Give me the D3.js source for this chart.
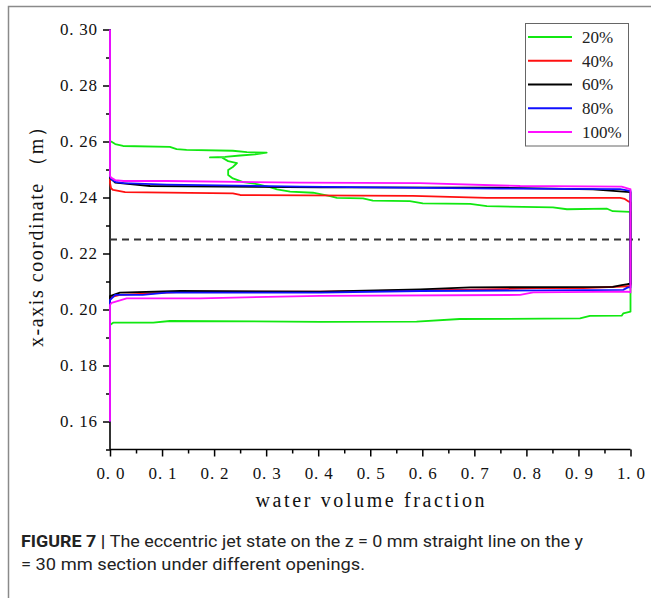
<!DOCTYPE html>
<html>
<head>
<meta charset="utf-8">
<script src="https://cdn.jsdelivr.net/npm/d3@7"></script>
<style>
  html, body { margin: 0; padding: 0; background: #fff; }
  svg { display: block; }
</style>
</head>
<body>
<svg id="chart" width="651" height="598"></svg>
<script>
// ---- data: water volume fraction (x) against x-axis coordinate in metres (y) ----
const openings = ["20%", "40%", "60%", "80%", "100%"];
const seriesColors = ["#11e811", "#ff1010", "#000000", "#1010ff", "#ff10ff"];

const series20 = [
  [0, 0.300], [0, 0.2602], [0.003, 0.2599], [0.010, 0.2591], [0.025, 0.2584], [0.115, 0.2581],
  [0.128, 0.2573], [0.147, 0.2570], [0.236, 0.2567], [0.263, 0.2562], [0.301, 0.2560],
  [0.279, 0.2554], [0.250, 0.2550], [0.221, 0.2545], [0.192, 0.2543], [0.215, 0.2543],
  [0.227, 0.2530], [0.244, 0.2523], [0.236, 0.2509], [0.227, 0.2498], [0.227, 0.2480],
  [0.236, 0.2468], [0.256, 0.2455], [0.282, 0.2448], [0.307, 0.2437], [0.321, 0.2429],
  [0.346, 0.2421], [0.390, 0.2417], [0.423, 0.2405], [0.436, 0.2399], [0.486, 0.2397],
  [0.505, 0.2389], [0.576, 0.2387], [0.601, 0.2379], [0.692, 0.2377], [0.724, 0.2369],
  [0.851, 0.2365], [0.878, 0.2358], [0.955, 0.2360], [0.966, 0.2351], [0.999, 0.2349],
  [1.0, 0.2349], [1.0, 0.1992], [0.986, 0.1986], [0.983, 0.1978], [0.922, 0.1977],
  [0.903, 0.1968], [0.672, 0.1966], [0.589, 0.1957], [0.404, 0.1956], [0.115, 0.1959],
  [0.083, 0.1953], [0.006, 0.1953], [0, 0.1945], [0, 0.160]
];
const series40 = [
  [0, 0.300], [0, 0.2452], [0.002, 0.2433], [0.006, 0.2427], [0.029, 0.2419], [0.236, 0.2415],
  [0.250, 0.2409], [0.582, 0.2406], [0.724, 0.2399], [0.980, 0.2399], [0.989, 0.2395],
  [0.997, 0.2385], [1.0, 0.2383], [1.0, 0.2085], [0.995, 0.2083], [0.909, 0.2076],
  [0.820, 0.2076], [0.692, 0.2071], [0.404, 0.2064], [0.147, 0.2064], [0.109, 0.2060],
  [0.019, 0.2052], [0.002, 0.2044], [0, 0.2038], [0, 0.160]
];
const series60 = [
  [0, 0.300], [0, 0.2470], [0.003, 0.2465], [0.010, 0.2453], [0.077, 0.2441], [0.404, 0.2436],
  [0.750, 0.2435], [0.928, 0.2429], [0.986, 0.2421], [0.999, 0.2419], [1.0, 0.2419],
  [1.0, 0.2091], [0.995, 0.2091], [0.983, 0.2087], [0.966, 0.2081], [0.692, 0.2079],
  [0.596, 0.2072], [0.404, 0.2064], [0.135, 0.2066], [0.019, 0.2060], [0, 0.2048], [0, 0.160]
];
const series80 = [
  [0, 0.300], [0, 0.2476], [0.002, 0.2466], [0.010, 0.2456], [0.026, 0.2451], [0.109, 0.2446],
  [0.365, 0.2439], [0.749, 0.2432], [0.980, 0.2430], [0.999, 0.2424], [1.0, 0.2424],
  [1.0, 0.2079], [0.995, 0.2079], [0.986, 0.2070], [0.596, 0.2066], [0.404, 0.2060],
  [0.109, 0.2060], [0.063, 0.2052], [0.010, 0.2052], [0, 0.2034], [0, 0.160]
];
const series100 = [
  [0, 0.300], [0, 0.2477], [0.002, 0.2471], [0.010, 0.2462], [0.026, 0.2459], [0.109, 0.2459],
  [0.365, 0.2453], [0.596, 0.2451], [0.788, 0.2441], [0.983, 0.2439], [0.999, 0.2430],
  [1.0, 0.2430], [1.0, 0.2061], [0.995, 0.2064], [0.813, 0.2061], [0.788, 0.2052],
  [0.404, 0.2049], [0.173, 0.2040], [0.032, 0.2040], [0.003, 0.2024], [0, 0.2016], [0, 0.160]
];

// jet centre reference line
const centreLine = [[0, 0.225], [1.018, 0.225]];

const fractionTicks = [0, 0.1, 0.2, 0.3, 0.4, 0.5, 0.6, 0.7, 0.8, 0.9, 1.0];
const fractionTickLabels = ["0. 0", "0. 1", "0. 2", "0. 3", "0. 4", "0. 5", "0. 6", "0. 7", "0. 8", "0. 9", "1. 0"];
const coordTicks = [0.16, 0.18, 0.20, 0.22, 0.24, 0.26, 0.28, 0.30];
const coordTickLabels = ["0. 16", "0. 18", "0. 20", "0. 22", "0. 24", "0. 26", "0. 28", "0. 30"];

const xTitle = "water volume fraction";
const yTitle = "x-axis coordinate （m）";
const captionBold = "FIGURE 7 | ";
const captionLine1 = "The eccentric jet state on the z = 0 mm straight line on the y";
const captionLine2 = "= 30 mm section under different openings.";

// ---- layout ----
const svg = d3.select("#chart");
const plot = { left: 110, right: 630.5, top: 29.5, bottom: 449.5 };

const x = d3.scaleLinear().domain([0, 1]).range([plot.left, plot.right]);
const y = d3.scaleLinear().domain([0.15, 0.30]).range([plot.bottom, plot.top]);

// page frame (left and top rules)
svg.append("path")
  .attr("d", "M8.5,598V6.5H651")
  .attr("fill", "none")
  .attr("stroke", "#8a8a8a")
  .attr("stroke-width", 1.5);

const serif = "'Liberation Serif', 'DejaVu Serif', serif";

// minor ticks
svg.append("g")
  .attr("transform", `translate(0,${plot.bottom})`)
  .call(d3.axisBottom(x).tickValues(d3.range(0.05, 1, 0.1)).tickSize(4).tickFormat(""))
  .call(g => g.select(".domain").remove())
  .call(g => g.selectAll("line").attr("stroke", "#000").attr("stroke-width", 1.5));
svg.append("g")
  .attr("transform", `translate(${plot.left},0)`)
  .call(d3.axisLeft(y).tickValues(d3.range(0.15, 0.30, 0.02).map(v => +v.toFixed(2))).tickSize(4).tickFormat(""))
  .call(g => g.select(".domain").remove())
  .call(g => g.selectAll("line").attr("stroke", "#000").attr("stroke-width", 1.5));

// major axes
const xAxis = svg.append("g")
  .attr("transform", `translate(0,${plot.bottom})`)
  .call(d3.axisBottom(x).tickValues(fractionTicks).tickSize(7).tickPadding(10)
    .tickFormat((d, i) => fractionTickLabels[i]));
const yAxis = svg.append("g")
  .attr("transform", `translate(${plot.left},0)`)
  .call(d3.axisLeft(y).tickValues(coordTicks).tickSize(7).tickPadding(6)
    .tickFormat((d, i) => coordTickLabels[i]));

[xAxis, yAxis].forEach(g => {
  g.select(".domain").attr("stroke", "#000").attr("stroke-width", 1.6)
    .attr("d", g === xAxis ? `M${plot.left},0H${plot.right}` : `M0,${plot.bottom}V${plot.top}`);
  g.selectAll(".tick line").attr("stroke", "#000").attr("stroke-width", 1.5);
  g.selectAll(".tick text")
    .attr("fill", "#111")
    .attr("font-family", serif)
    .attr("font-size", 17);
});
xAxis.selectAll(".tick text").attr("textLength", 28).attr("lengthAdjust", "spacing");
yAxis.selectAll(".tick text").attr("textLength", 37).attr("lengthAdjust", "spacing");

// axis titles
svg.append("text")
  .attr("x", 370)
  .attr("y", 507)
  .attr("text-anchor", "middle")
  .attr("font-family", serif)
  .attr("font-size", 20)
  .attr("fill", "#111")
  .attr("textLength", 229)
  .attr("lengthAdjust", "spacing")
  .text(xTitle);

svg.append("text")
  .attr("transform", "translate(43,232) rotate(-90)")
  .attr("text-anchor", "middle")
  .attr("font-family", serif)
  .attr("font-size", 20)
  .attr("fill", "#111")
  .attr("textLength", 230)
  .attr("lengthAdjust", "spacing")
  .text(yTitle);

// centre reference line
const line = d3.line().x(d => x(d[0])).y(d => y(d[1]));
svg.append("path")
  .attr("d", line(centreLine))
  .attr("fill", "none")
  .attr("stroke", "#333")
  .attr("stroke-width", 1.8)
  .attr("stroke-dasharray", "7,5");

// water fraction profiles
const allSeries = [series20, series40, series60, series80, series100];
svg.append("g")
  .selectAll("path")
  .data(allSeries)
  .join("path")
  .attr("d", line)
  .attr("fill", "none")
  .attr("stroke", (d, i) => seriesColors[i])
  .attr("stroke-width", 1.8)
  .attr("stroke-linejoin", "round");

// legend
const legend = svg.append("g");
legend.append("rect")
  .attr("x", 525.5).attr("y", 23.5).attr("width", 103).attr("height", 122.5)
  .attr("fill", "#fff").attr("stroke", "#666").attr("stroke-width", 1);
const legendRow = d3.scalePoint().domain(openings).range([37, 132]);
const items = legend.selectAll("g.item").data(openings).join("g")
  .attr("class", "item")
  .attr("transform", d => `translate(0,${legendRow(d)})`);
items.append("line")
  .attr("x1", 528).attr("x2", 572)
  .attr("stroke", (d, i) => seriesColors[i])
  .attr("stroke-width", 1.8);
items.append("text")
  .attr("x", 582)
  .attr("dy", "0.35em")
  .attr("font-family", serif)
  .attr("font-size", 17)
  .attr("fill", "#222")
  .text(d => d);

// caption
const sans = "Roboto, 'Liberation Sans', sans-serif";
const cap1 = svg.append("text")
  .attr("x", 21).attr("y", 547)
  .attr("font-family", sans).attr("font-size", 16).attr("fill", "#222")
  .attr("textLength", 562).attr("lengthAdjust", "spacingAndGlyphs");
cap1.append("tspan").attr("font-weight", "bold").text(captionBold);
cap1.append("tspan").text(captionLine1);
svg.append("text")
  .attr("x", 21).attr("y", 570)
  .attr("font-family", sans).attr("font-size", 16).attr("fill", "#222")
  .attr("textLength", 344).attr("lengthAdjust", "spacingAndGlyphs")
  .text(captionLine2);
</script>
</body>
</html>
